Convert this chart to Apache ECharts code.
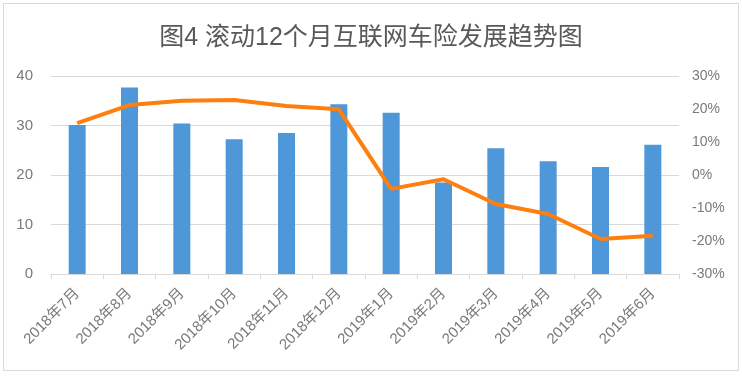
<!DOCTYPE html>
<html><head><meta charset="utf-8">
<script src="https://cdn.jsdelivr.net/npm/echarts@6/dist/echarts.min.js"></script>
<style>html,body{margin:0;padding:0;background:#fff}#c{width:742px;height:380px}
#frame{position:absolute;left:3px;top:3px;width:734px;height:366px;border:1px solid #d9d9d9;pointer-events:none}</style>
</head><body><div id="c"></div><div id="frame"></div>
<script>
const categories = ["2018年7月","2018年8月","2018年9月","2018年10月","2018年11月","2018年12月","2019年1月","2019年2月","2019年3月","2019年4月","2019年5月","2019年6月"];
const barValues = [30.1, 37.7, 30.4, 27.2, 28.5, 34.3, 32.6, 18.5, 25.4, 22.8, 21.6, 26.1];
const lineValues = [15.7, 21.2, 22.5, 22.7, 20.9, 19.9, -4.2, -1.3, -8.8, -11.8, -19.4, -18.4];
const title = "图4 滚动12个月互联网车险发展趋势图";

const chart = echarts.init(document.getElementById('c'));
const font = '"Liberation Sans", "Noto Sans CJK SC", sans-serif';
chart.setOption({
  animation: false,
  title: {text: title, left: 'center', top: 21, textStyle: {fontSize: 25, fontWeight: 'normal', color: '#595959', fontFamily: font}},
  grid: {left: 51, right: 63, top: 76, bottom: 106},
  xAxis: {
    type: 'category', data: categories,
    axisLine: {lineStyle: {color: '#d9d9d9'}},
    axisTick: {show: true, alignWithLabel: false, length: 5, lineStyle: {color: '#d9d9d9'}},
    axisLabel: {rotate: 45, color: '#7a7a7a', fontSize: 15, fontFamily: font, margin: 17, interval: 0}
  },
  yAxis: [
    {type: 'value', min: 0, max: 40, interval: 10,
     axisLabel: {color: '#7a7a7a', fontSize: 15, fontFamily: font, margin: 18},
     splitLine: {lineStyle: {color: '#d9d9d9'}}, axisLine: {show: false}, axisTick: {show: false}},
    {type: 'value', min: -30, max: 30, interval: 10,
     axisLabel: {color: '#7a7a7a', fontSize: 14, fontFamily: font, margin: 13, formatter: '{value}%'},
     splitLine: {show: false}, axisLine: {show: false}, axisTick: {show: false}}
  ],
  series: [
    {type: 'bar', data: barValues, yAxisIndex: 0, barWidth: 17, itemStyle: {color: '#4e97d8'}},
    {type: 'line', data: lineValues, yAxisIndex: 1, symbol: 'none', lineStyle: {color: '#ff7f0e', width: 4}, itemStyle: {color: '#ff7f0e'}}
  ]
});
</script></body></html>
